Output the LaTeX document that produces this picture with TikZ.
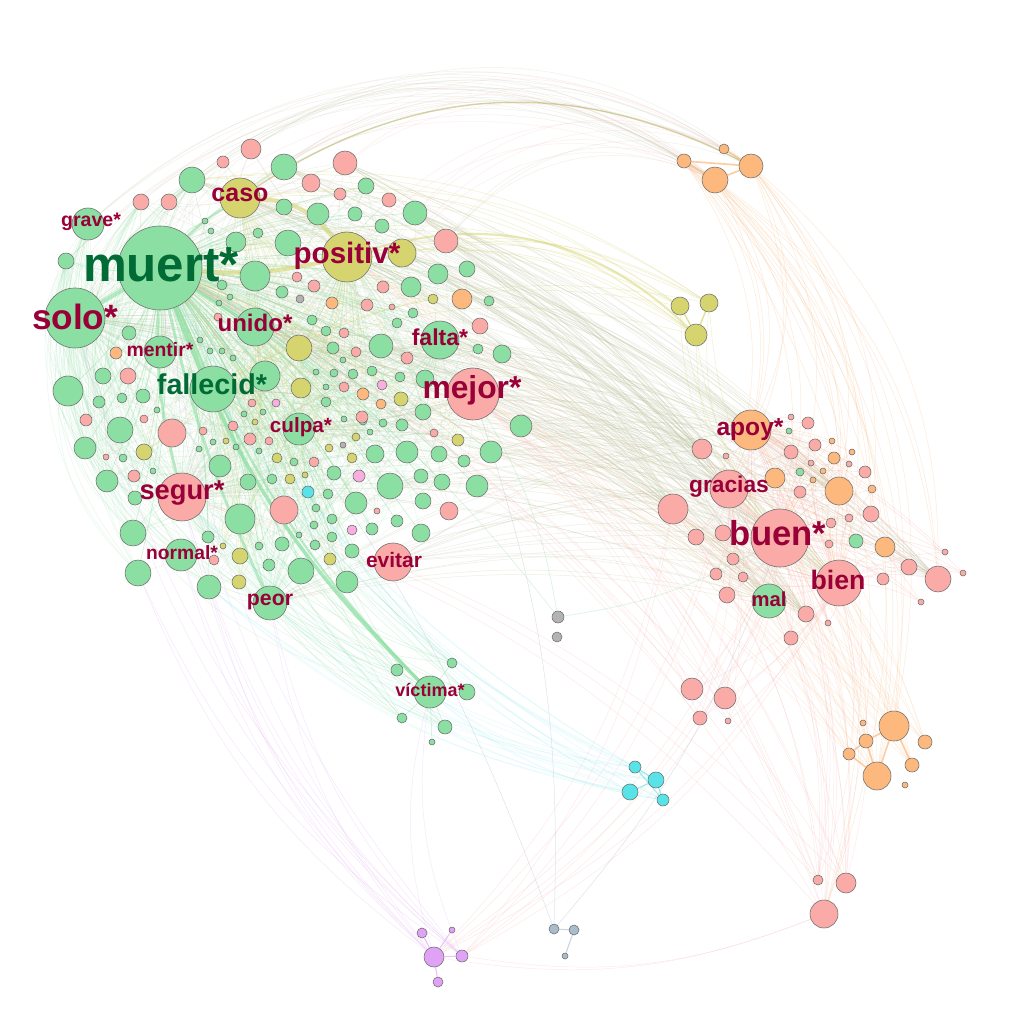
\documentclass[tikz,border=0pt]{standalone}
\usepackage{fontspec}
\setmainfont{Liberation Sans}
\usepackage{tikz}
\usetikzlibrary{positioning}
\definecolor{gfill}{HTML}{8BDFA2}
\definecolor{pfill}{HTML}{FAABA8}
\definecolor{yfill}{HTML}{D5D46E}
\definecolor{ofill}{HTML}{FDB97D}
\definecolor{cfill}{HTML}{57E3E8}
\definecolor{vfill}{HTML}{DFA2F5}
\definecolor{bfill}{HTML}{A9BCC9}
\definecolor{xfill}{HTML}{B3B3B3}
\definecolor{lfill}{HTML}{F8AEDE}
\definecolor{nodeline}{HTML}{6E6E6E}
\definecolor{labred}{HTML}{990038}
\definecolor{labgreen}{HTML}{006B35}
\definecolor{emix}{HTML}{BDC39E}
\definecolor{eolive}{HTML}{B9B46A}
\pgfdeclarelayer{paper}
\pgfdeclarelayer{edges}
\pgfsetlayers{paper,edges,main}
\newcommand{\fs}[1]{\fontsize{#1}{#1}\selectfont\bfseries}
\tikzset{
	nd/.style={circle, draw=nodeline, line width=0.4pt, inner sep=0pt, minimum size=#1*0.05cm},
	gn/.style={nd=#1, fill=gfill},
	pn/.style={nd=#1, fill=pfill},
	yn/.style={nd=#1, fill=yfill},
	on/.style={nd=#1, fill=ofill},
	cn/.style={nd=#1, fill=cfill},
	vn/.style={nd=#1, fill=vfill},
	bn/.style={nd=#1, fill=bfill},
	xn/.style={nd=#1, fill=xfill},
	ln/.style={nd=#1, fill=lfill},
	lbl/.style={inner sep=0pt, text=labred},
	ebase/.style={line width=0.35pt, draw opacity=0.3},
	eg/.style={ebase, draw=gfill},
	ep/.style={ebase, draw=pfill},
	em/.style={ebase, draw=emix},
	ey/.style={ebase, draw=yfill},
	eo/.style={ebase, draw=ofill},
	ec/.style={ebase, draw=cfill},
	ev/.style={ebase, draw=vfill},
	eb/.style={ebase, draw=bfill}
}
\begin{document}
\begin{tikzpicture}[x=0.025cm, y=-0.025cm]
	\begin{pgfonlayer}{paper}
		\fill[white] (0,0) rectangle (1024,1024);
	\end{pgfonlayer}
	\useasboundingbox (0,0) rectangle (1024,1024);

	% main words
	\node[gn=42] (muert) at (160,268) {};
	\node[gn=30] (solo) at (75,318) {};
	\node[gn=23] (fallecid) at (213,389) {};
	\node[gn=19] (unido) at (255,327) {};
	\node[gn=16] (grave) at (88,224) {};
	\node[gn=16] (mentir) at (160,352) {};
	\node[yn=25] (positiv) at (347,257) {};
	\node[yn=20] (caso) at (240,198) {};
	\node[gn=19] (falta) at (440,340) {};
	\node[pn=26] (mejor) at (473,394) {};
	\node[gn=16] (culpa) at (299,429) {};
	\node[pn=24] (segur) at (182,497) {};
	\node[gn=16] (normal) at (181,555) {};
	\node[gn=17] (peor) at (270,603) {};
	\node[pn=19] (evitar) at (393,562) {};
	\node[gn=16] (victima) at (430,692) {};
	\node[on=20] (apoy) at (751,430) {};
	\node[pn=19] (gracias) at (729,489) {};
	\node[pn=29] (buen) at (780,538) {};
	\node[pn=23] (bien) at (839,583) {};
	\node[gn=17] (mal) at (769,601) {};

	% small words
	\foreach \x/\y/\r [count=\i] in {192/180/13, 284/167/13, 366/186/8, 284/207/8, 318/214/11, 355/214/7, 415/213/12, 382/226/7, 288/243/13, 236/242/10,
		258/233/5, 255/276/15, 438/274/10, 467/269/8, 411/287/10, 282/292/6, 222/285/5, 489/301/5, 413/313/5, 397/323/5,
		312/320/5, 326/331/5, 205/221/3, 211/231/3, 230/297/3, 219/303/3, 66/261/8, 381/346/12, 333/348/6, 502/354/9,
		478/349/5, 425/379/9, 400/377/5, 372/371/5, 353/374/5, 334/373/4, 265/376/15, 326/402/5, 423/412/8, 521/426/11,
		402/425/6, 383/423/4, 375/454/9, 407/452/11, 439/454/8, 464/461/6, 491/452/11, 220/466/11, 248/482/8, 272/479/5,
		294/462/4, 334/473/7, 390/486/13, 421/476/7, 442/482/8, 477/486/11, 356/503/11, 423/501/8, 328/494/5, 316/508/4,
		240/519/15, 397/521/6, 363/421/4, 200/340/3, 210/351/3, 222/351/3, 233/358/3, 343/360/3, 316/372/3, 326/387/3,
		343/388/3, 263/412/3, 244/414/3, 213/442/3, 199/449/3, 236/447/3, 259/451/3, 344/419/3, 370/432/3, 68/391/15,
		103/376/8, 99/402/6, 122/398/5, 143/396/7, 129/333/7, 120/430/13, 85/448/11, 123/458/4, 107/481/11, 153/471/3,
		133/533/13, 138/573/13, 209/587/12, 135/498/7, 208/537/6, 157/410/3, 259/546/4, 282/544/7, 269/565/6, 301/571/13,
		347/582/11, 352/551/7, 332/537/5, 314/525/4, 315/545/5, 332/519/5, 372/529/6, 421/533/9, 299/535/3, 800/472/4,
		856/541/7, 789/431/3, 397/670/6, 452/663/5, 467/692/8, 402/718/5, 445/727/7, 432/742/3}
		\node[gn=\r] (g\i) at (\x,\y) {};
	\foreach \x/\y/\r [count=\i] in {251/149/10, 223/162/6, 345/163/12, 311/183/9, 340/194/6, 389/200/7, 141/202/8, 169/202/8, 446/241/12, 383/287/6,
		314/286/6, 297/277/5, 367/305/6, 480/326/8, 356/352/5, 407/358/6, 128/376/8, 252/403/4, 344/387/5, 86/420/6,
		172/433/14, 144/419/4, 203/431/4, 233/426/5, 250/439/6, 269/441/4, 134/476/6, 106/457/3, 314/462/5, 362/417/6,
		434/433/4, 284/510/14, 449/511/9, 214/560/5, 377/511/3, 702/449/10, 673/509/15, 696/537/8, 723/533/8, 733/559/6,
		716/574/6, 743/577/5, 727/595/8, 806/614/8, 791/638/7, 828/623/3, 808/423/6, 791/452/7, 815/445/6, 800/492/6,
		811/463/3, 791/417/3, 726/456/3, 831/523/5, 849/518/4, 849/464/3, 865/472/6, 871/514/8, 829/544/4, 883/579/6,
		909/567/8, 938/579/13, 945/552/3, 963/573/3, 921/602/3, 692/689/11, 725/698/11, 700/718/7, 728/721/3, 818/880/5,
		846/883/10, 824/914/14, 344/333/5, 218/317/4, 392/307/3}
		\node[pn=\r] (p\i) at (\x,\y) {};
	\foreach \x/\y/\r [count=\i] in {402/253/14, 433/299/5, 299/348/13, 301/388/10, 401/399/7, 144/452/8, 458/440/6, 277/458/5, 356/437/4, 329/448/4,
		290/479/5, 330/559/6, 240/556/8, 239/582/7, 352/458/5, 255/422/3, 226/441/3, 305/475/3, 223/546/3, 680/306/9,
		709/303/9, 696/335/11}
		\node[yn=\r] (y\i) at (\x,\y) {};
	\foreach \x/\y/\r [count=\i] in {462/299/10, 332/303/6, 116/353/6, 363/394/6, 381/404/5, 684/161/7, 724/149/5, 751/166/12, 715/180/13, 775/478/10,
		839/491/14, 834/458/6, 823/471/3, 813/480/3, 832/441/3, 852/452/3, 872/489/4, 885/547/10, 894/726/15, 866/741/7,
		849/754/6, 877/776/14, 925/742/7, 912/765/7, 863/723/3, 905/785/3}
		\node[on=\r] (o\i) at (\x,\y) {};
	\foreach \x/\y/\r [count=\i] in {308/492/6, 635/767/6, 656/780/8, 630/792/8, 663/800/6}
		\node[cn=\r] (c\i) at (\x,\y) {};
	\foreach \x/\y/\r [count=\i] in {434/957/10, 462/956/6, 422/933/5, 452/930/3, 438/982/5}
		\node[vn=\r] (v\i) at (\x,\y) {};
	\foreach \x/\y/\r [count=\i] in {554/929/5, 574/930/5, 565/956/3}
		\node[bn=\r] (b\i) at (\x,\y) {};
	\foreach \x/\y/\r [count=\i] in {300/299/4, 343/445/3, 558/617/6, 557/637/5}
		\node[xn=\r] (x\i) at (\x,\y) {};
	\foreach \x/\y/\r [count=\i] in {382/385/5, 276/403/4, 359/476/6, 352/530/5}
		\node[ln=\r] (l\i) at (\x,\y) {};

	\begin{pgfonlayer}{edges}
		\foreach \t in {1,...,109} \draw[eg, draw opacity=.4, line width=.5pt] (muert) to[bend left=8] (g\t);
		\foreach \s in {solo,fallecid,unido,segur,culpa,peor,positiv,falta}
			\foreach \t in {1,3,...,109} \draw[eg, draw opacity=.18] (\s) to[bend left=10] (g\t);
		\foreach \t in {1,...,69} {\pgfmathtruncatemacro\k{\t+40}\draw[eg, draw opacity=.2] (g\t) to[bend left=10] (g\k);}
		\foreach \s in {grave,solo,g27,muert,g1,p7}
			\foreach \t in {80,...,95} \draw[eg, draw opacity=.2] (\s) to[bend right=30] (g\t);
		\foreach \s in {grave,solo,g27,g80}
			\foreach \t in {segur,normal,peor,g61,g100,victima} \draw[eg, draw opacity=.22] (\s) to[bend right=30] (\t);
		\foreach \s in {muert,mejor,segur,positiv,solo,caso}
			\foreach \t in {1,...,35} \draw[em, draw opacity=.22] (\s) to[bend left=10] (p\t);
		\foreach \s in {muert,positiv,caso,fallecid,unido}
			\foreach \t in {2,...,19} \draw[ey, draw opacity=.3] (\s) to[bend left=10] (y\t);
		\foreach \s in {muert,solo,fallecid,positiv,caso,mejor,segur,unido,falta,culpa,evitar,peor,g1,g2,g7,g40,g47,p9,p3,g13,g28,g53,y1,y3}
			\foreach \t in {buen,bien,mal,gracias,apoy,p37,p36,p62,o11,p44}
				\draw[em, draw opacity=.28] (\s) to[bend left=12] (\t);
		\foreach \s in {g1,p1,caso,muert,grave,p9,g27,p8}
			\foreach \t in {6,8,9} \draw[em, draw opacity=.22] (\s) to[bend left=36] (o\t);
		\foreach \s in {g2,p3,positiv,solo,g7,y1,p7}
			\foreach \t in {7,9} \draw[ep, draw opacity=.2] (\s) to[bend left=36] (o\t);
		\foreach \s in {o6,o8,o9}
			\foreach \t in {buen,bien,apoy,gracias,o11,o19,o22,p72,p62,p58}
				\draw[eo, draw opacity=.3] (\s) to[bend left=25] (\t);
		\foreach \s in {buen,bien,apoy,gracias}
			\foreach \t in {36,...,65} \draw[ep, draw opacity=.3] (\s) to[bend left=10] (p\t);
		\foreach \s in {buen,bien,apoy}
			\foreach \t in {10,...,18} \draw[eo, draw opacity=.35] (\s) to[bend left=10] (o\t);
		\foreach \s in {buen,bien,mal,gracias,p37,apoy,muert,mejor,segur,positiv}
			\foreach \t in {70,71,72} \draw[ep, draw opacity=.25] (\s) to[bend left=15] (p\t);
		\foreach \s in {buen,bien,apoy,mejor,muert,positiv,p37,gracias}
			\foreach \t in {19,...,24} \draw[eo, draw opacity=.22] (\s) to[bend left=10] (o\t);
		\foreach \s in {buen,mejor,muert,bien,gracias}
			\foreach \t in {66,...,69} \draw[ep, draw opacity=.25] (\s) to[bend left=10] (p\t);
		\foreach \s in {muert,fallecid,segur,peor,victima,g93,c1}
			\foreach \t in {2,...,5} \draw[ec, draw opacity=.15] (\s) to[bend right=15] (c\t);
		\foreach \s in {muert,solo,segur,peor,victima,normal,g92,g93}
			\foreach \t in {1,2} \draw[ev, draw opacity=.25] (\s) to[bend right=15] (v\t);
		\foreach \s in {buen,bien,p72,p37,gracias,mal}
			\foreach \t in {1,2} \draw[ep, draw opacity=.25] (\s) to[bend left=15] (v\t);
		\foreach \s in {mejor,buen,muert} \draw[eb, draw opacity=.4] (\s) to[bend left=10] (b1);
		\foreach \s in {muert,fallecid,segur,peor,g61,culpa}
			\foreach \t in {113,...,117} \draw[eg, draw opacity=.3] (\s) to[bend right=12] (g\t);
		\foreach \t in {113,...,118} \draw[eg, draw opacity=.5] (victima) -- (g\t);
		\foreach \s in {positiv,caso,muert,g1,fallecid,buen,bien,y1}
			\foreach \t in {20,21,22} \draw[ey, draw opacity=.35] (\s) to[bend left=20] (y\t);
		\foreach \s in {muert,mejor,buen} \draw[eg, draw opacity=.4] (\s) to[bend left=10] (x3);
		% heavy ties
		\draw[eg, line width=2.5pt, draw opacity=.75] (muert) to[bend right=12] (victima);
		\draw[eg, line width=1.5pt, draw opacity=.6] (fallecid) to[bend right=8] (victima);
		\draw[ey, line width=3pt, draw opacity=.6] (muert) to[bend right=8] (positiv);
		\draw[ey, line width=3pt, draw opacity=.6] (caso) to[bend left=25] (positiv);
		\draw[eg, line width=3pt, draw opacity=.6] (muert) -- (fallecid);
		\draw[eg, line width=3pt, draw opacity=.6] (muert) -- (solo);
		\draw[eg, line width=2pt, draw opacity=.6] (muert) -- (unido);
		\draw[eg, line width=2pt, draw opacity=.6] (muert) to[bend right=8] (segur);
		\draw[eg, line width=2pt, draw opacity=.6] (muert) to[bend right=6] (peor);
		\draw[eg, line width=1.5pt, draw opacity=.6] (muert) to[bend left=8] (caso);
		\draw[draw=eolive, line width=1pt, draw opacity=.6] (caso) to[bend left=30] (o8);
		\draw[ey, line width=1.5pt, draw opacity=.5] (positiv) to[bend left=30] (y22);
		\draw[ey, line width=1pt, draw opacity=.7] (y20) -- (y22);
		\draw[ey, line width=1pt, draw opacity=.7] (y21) -- (y22);
		\foreach \a/\b in {o6/o9, o9/o8, o6/o8, o7/o8, o19/o20, o20/o22, o19/o24, o21/o22, o20/o21, o19/o22}
			\draw[eo, line width=1.2pt, draw opacity=.7] (\a) -- (\b);
		\foreach \a/\b in {c2/c3, c3/c4, c2/c5, c3/c5}
			\draw[ec, line width=.8pt, draw opacity=.6] (\a) -- (\b);
		\foreach \a/\b in {v1/v2, v1/v3, v1/v4, v1/v5}
			\draw[ev, line width=.8pt, draw opacity=.6] (\a) -- (\b);
		\foreach \a/\b in {b1/b2, b2/b3}
			\draw[eb, line width=.8pt, draw opacity=.6] (\a) -- (\b);
	\end{pgfonlayer}

	% labels
	\node[lbl, text=labgreen, font=\fs{35}] (tmuert) at (161,265) {muert*};
	\node[lbl, font=\fs{25}] (tsolo) at (75,317) {solo*};
	\node[lbl, text=labgreen, font=\fs{20.4}] (tfallecid) at (212,384) {fallecid*};
	\node[lbl, font=\fs{21}] (tpositiv) at (347,256) {positiv*};
	\node[lbl, font=\fs{17.8}] (tcaso) at (240,195) {caso};
	\node[lbl, font=\fs{17.1}] (tunido) at (255,323) {unido*};
	\node[lbl, font=\fs{13.9}] (tgrave) at (91,222) {grave*};
	\node[lbl, font=\fs{13.8}] (tmentir) at (160,350) {mentir*};
	\node[lbl, font=\fs{22.6}] (tmejor) at (472,390) {mejor*};
	\node[lbl, font=\fs{16.4}] (tfalta) at (440,337) {falta*};
	\node[lbl, font=\fs{14.7}] (tculpa) at (301,427) {culpa*};
	\node[lbl, font=\fs{19.4}] (tsegur) at (182,493) {segur*};
	\node[lbl, font=\fs{13.7}] (tnormal) at (182,553) {normal*};
	\node[lbl, font=\fs{15.1}] (tpeor) at (270,602) {peor};
	\node[lbl, font=\fs{14.9}] (tevitar) at (394,560) {evitar};
	\node[lbl, font=\fs{12.8}] (tvictima) at (430,690) {víctima*};
	\node[lbl, font=\fs{17.5}] (tapoy) at (750,430) {apoy*};
	\node[lbl, font=\fs{16.2}] (tgracias) at (729,487) {gracias};
	\node[lbl, font=\fs{24.6}] (tbuen) at (778,533) {buen*};
	\node[lbl, font=\fs{19}] (tbien) at (838,580) {bien};
	\node[lbl, font=\fs{14.4}] (tmal) at (769,599) {mal};
\end{tikzpicture}
\end{document}
